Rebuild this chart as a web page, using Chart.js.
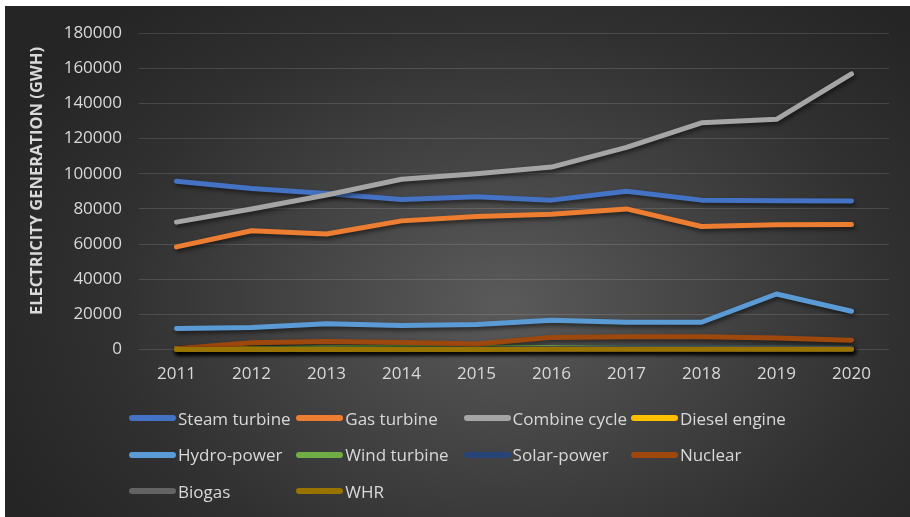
<!DOCTYPE html>
<html>
<head>
<meta charset="utf-8">
<script src="https://cdn.jsdelivr.net/npm/chart.js@4.4.1/dist/chart.umd.min.js"></script>
<style>
  html, body { margin: 0; padding: 0; background: #ffffff; }
  #frame {
    position: absolute; left: 5px; top: 6px; width: 905px; height: 511px;
    background: radial-gradient(ellipse 62% 78% at 55% 58%, #5a5a5a 0%, #454545 35%, #303030 70%, #252525 100%);
    overflow: hidden;
  }
  #chart { position: absolute; left: 0; top: 0; }
  #legend {
    position: absolute; left: 124px; top: 400px;
    display: grid; grid-template-columns: repeat(4, 167.3px); grid-auto-rows: 36.5px;
    font-family: "Open Sans", sans-serif;
    font-size: 17px; color: #d9d9d9;
  }
  .item { display: flex; align-items: center; white-space: nowrap; height: 24px; }
  .swatch { width: 47px; height: 6px; border-radius: 3px; margin-right: 2px; flex: none; }
</style>
</head>
<body>
<div id="frame">
  <canvas id="chart" width="905" height="511"></canvas>
  <div id="legend"></div>
</div>
<script>
// Annual electricity generation by plant type (GWh)
const years = ['2011', '2012', '2013', '2014', '2015', '2016', '2017', '2018', '2019', '2020'];
const yTicks = [0, 20000, 40000, 60000, 80000, 100000, 120000, 140000, 160000, 180000];

const steamTurbine  = [95800, 91600, 88800, 85400, 86900, 85000, 90100, 85000, 84700, 84500];
const gasTurbine    = [58400, 67600, 65700, 73200, 75700, 77000, 80000, 70000, 71000, 71100];
const combineCycle  = [72500, 80000, 87900, 96900, 100000, 103800, 115000, 129000, 131000, 156800];
const dieselEngine  = [600, 500, 500, 400, 400, 300, 300, 300, 200, 200];
const hydroPower    = [11900, 12500, 14700, 13600, 14200, 16600, 15500, 15500, 31600, 21800];
const windTurbine   = [0, 300, 1100, 1200, 1300, 1100, 900, 900, 800, 700];
const solarPower    = [0, 0, 0, 100, 300, 600, 800, 900, 900, 900];
const nuclear       = [500, 3800, 4600, 4000, 3100, 6900, 7200, 7200, 6500, 5300];
const biogas        = [0, 0, 0, 0, 100, 100, 100, 100, 100, 100];
const whr           = [0, 0, 0, 0, 0, 100, 100, 100, 200, 200];

const seriesNames = ['Steam turbine', 'Gas turbine', 'Combine cycle', 'Diesel engine', 'Hydro-power',
                     'Wind turbine', 'Solar-power', 'Nuclear', 'Biogas', 'WHR'];
const seriesValues = [steamTurbine, gasTurbine, combineCycle, dieselEngine, hydroPower,
                      windTurbine, solarPower, nuclear, biogas, whr];
const seriesColors = ['#4472C4', '#ED7D31', '#A5A5A5', '#FFC000', '#5B9BD5',
                      '#70AD47', '#264478', '#9E480E', '#636363', '#997300'];
const axisTitle = 'ELECTRICITY GENERATION (GWH)';

const datasets = seriesNames.map((name, i) => ({
  label: name,
  data: seriesValues[i],
  borderColor: seriesColors[i],
  backgroundColor: seriesColors[i],
  borderWidth: 5,
  borderCapStyle: 'round',
  borderJoinStyle: 'round',
  pointRadius: 0,
  tension: 0,
  clip: false,
  order: -i   // later series are painted over earlier ones
}));

// soft drop shadow under the lines
const lineShadow = {
  id: 'lineShadow',
  beforeDatasetsDraw(chart) {
    const ctx = chart.ctx;
    ctx.save();
    ctx.shadowColor = 'rgba(0,0,0,0.55)';
    ctx.shadowBlur = 4;
    ctx.shadowOffsetX = 1.5;
    ctx.shadowOffsetY = 2.5;
  },
  afterDatasetsDraw(chart) { chart.ctx.restore(); }
};

// rotated value-axis title
const yTitle = {
  id: 'yTitle',
  afterDraw(chart) {
    const ctx = chart.ctx;
    ctx.save();
    ctx.translate(32, 175);
    ctx.rotate(-Math.PI / 2);
    ctx.font = 'bold 16.5px "Open Sans", sans-serif';
    ctx.fillStyle = '#d9d9d9';
    ctx.textAlign = 'center';
    ctx.textBaseline = 'middle';
    ctx.fillText(axisTitle, 0, 0);
    ctx.restore();
  }
};

const tickFont = { family: '"Open Sans", sans-serif', size: 17 };

const chart = new Chart(document.getElementById('chart'), {
  type: 'line',
  data: { labels: years, datasets },
  options: {
    responsive: false,
    animation: false,
    layout: { padding: { left: 0, right: 21, top: 24, bottom: 127.5 } },
    plugins: { legend: { display: false }, tooltip: { enabled: false } },
    scales: {
      x: {
        offset: true,
        grid: { display: false, drawTicks: false },
        border: { display: false },
        ticks: { color: '#d9d9d9', font: tickFont, padding: 14, maxRotation: 0 },
        afterFit(scale) { scale.height = 40; }
      },
      y: {
        min: 0, max: 180000,
        afterBuildTicks(scale) { scale.ticks = yTicks.map(v => ({ value: v })); },
        grid: { color: 'rgba(255,255,255,0.13)', lineWidth: 1, drawTicks: false },
        border: { display: false },
        ticks: { color: '#d9d9d9', font: tickFont, padding: 17, callback: v => String(v) },
        afterFit(scale) { scale.width = 134; }
      }
    }
  },
  plugins: [lineShadow, yTitle]
});

// legend laid out in a four-column grid
const legend = document.getElementById('legend');
chart.data.datasets.forEach(ds => {
  const item = document.createElement('div');
  item.className = 'item';
  const sw = document.createElement('span');
  sw.className = 'swatch';
  sw.style.background = ds.borderColor;
  const tx = document.createElement('span');
  tx.textContent = ds.label;
  item.appendChild(sw);
  item.appendChild(tx);
  legend.appendChild(item);
});
</script>
</body>
</html>
